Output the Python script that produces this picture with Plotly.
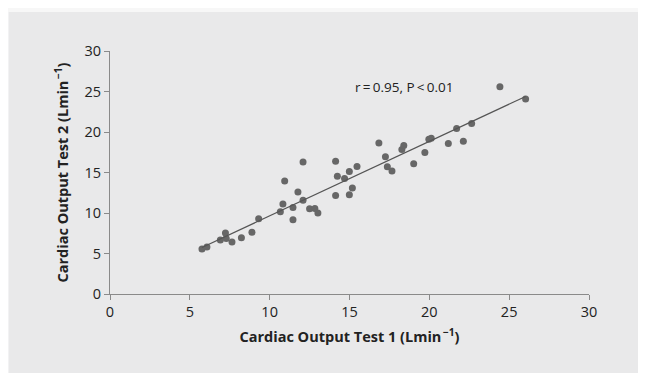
import numpy as np
import plotly.graph_objects as go

test1 = [5.76, 6.07, 6.91, 7.23, 7.28, 7.64, 8.23, 8.89, 9.31, 10.67, 10.83, 10.94,
         11.46, 11.46, 11.77, 12.09, 12.09, 12.50, 12.83, 13.02, 14.13, 14.13, 14.24,
         14.69, 14.99, 14.99, 15.18, 15.47, 16.84, 17.25, 17.37, 17.66, 18.28, 18.40,
         19.02, 19.72, 19.97, 20.12, 21.19, 21.71, 22.13, 22.65, 24.42, 26.03]
test2 = [5.56, 5.81, 6.67, 7.54, 6.85, 6.43, 6.95, 7.61, 9.30, 10.14, 11.10, 13.95,
         10.68, 9.17, 12.60, 11.58, 16.30, 10.53, 10.55, 10.00, 16.40, 12.16, 14.55,
         14.26, 15.13, 12.24, 13.10, 15.74, 18.63, 16.93, 15.70, 15.18, 17.85, 18.32,
         16.07, 17.48, 19.12, 19.22, 18.59, 20.44, 18.87, 21.06, 25.59, 24.07]
tick_vals = [0, 5, 10, 15, 20, 25, 30]
annotation_text = "r\u2009=\u20090.95, P\u2009<\u20090.01"

x = np.array(test1)
y = np.array(test2)
slope, intercept = np.polyfit(x, y, 1)
fit_x = np.array([x.min(), x.max()])
fit_y = slope * fit_x + intercept

fig = go.Figure()
fig.add_trace(go.Scatter(x=test1, y=test2, mode="markers",
                         marker=dict(color="#676767", size=7, line=dict(width=0)),
                         showlegend=False, hoverinfo="skip"))
fig.add_trace(go.Scatter(x=fit_x, y=fit_y, mode="lines",
                         line=dict(color="#555555", width=1.2),
                         showlegend=False, hoverinfo="skip"))

# light outer strips (top and left) around the grey panel
fig.add_shape(type="rect", xref="paper", yref="paper",
              x0=-0.3, x1=1.3, y0=1.1607, y1=1.25,
              fillcolor="#f7f7f7", line=dict(width=0), layer="below")
fig.add_shape(type="rect", xref="paper", yref="paper",
              x0=-0.3, x1=-0.2115, y0=-0.5, y1=1.25,
              fillcolor="#f7f7f7", line=dict(width=0), layer="below")

fig.add_annotation(x=18.4, y=25.55, xref="x", yref="y", text=annotation_text,
                   showarrow=False, font=dict(size=13.5, color="#222222"))

axis_common = dict(range=[0, 30], tickvals=tick_vals, showgrid=False, zeroline=False,
                   showline=True, linecolor="#8a8a8a", linewidth=1,
                   ticks="outside", ticklen=5, tickcolor="#8a8a8a", tickwidth=1,
                   tickfont=dict(size=14.5, color="#222222"))

fig.update_layout(
    width=646, height=373,
    margin=dict(l=102, r=65, t=43, b=87, pad=0),
    paper_bgcolor="#e9e9ea", plot_bgcolor="rgba(0,0,0,0)",
    font=dict(family="Open Sans", color="#222222"),
    xaxis=dict(**axis_common,
               title=dict(text="<b>Cardiac Output Test 1 (Lmin<sup>\u2009\u22121</sup>)</b>",
                          font=dict(size=14.5, color="#222222"), standoff=11)),
    yaxis=dict(**axis_common,
               title=dict(text="<b>Cardiac Output Test 2 (Lmin<sup>\u2009\u22121</sup>)</b>",
                          font=dict(size=14.5, color="#222222"), standoff=12)),
)

fig.write_html("out.html")
